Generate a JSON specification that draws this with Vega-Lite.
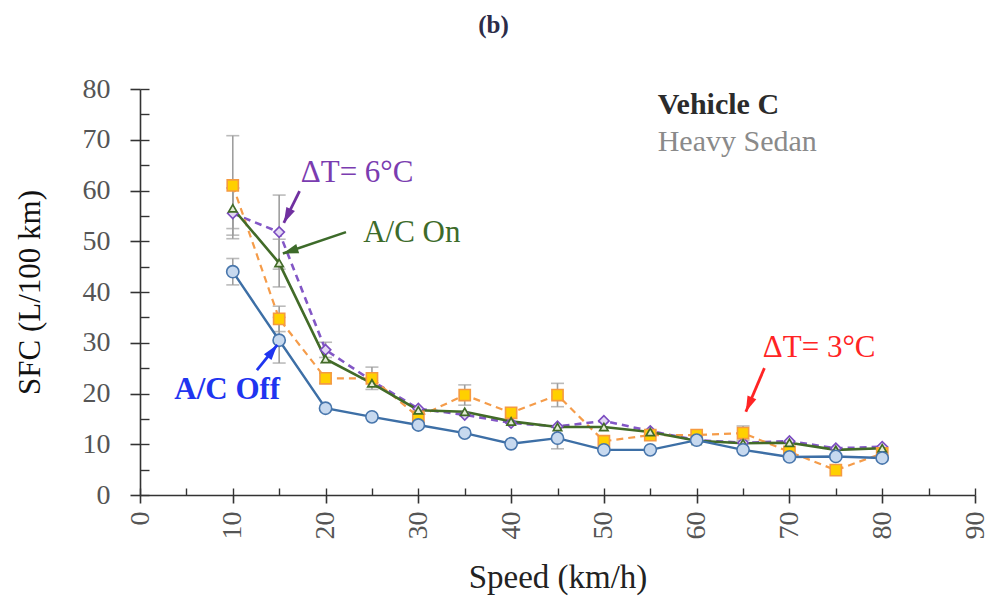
{
  "$schema": "https://vega.github.io/schema/vega-lite/v6.json",
  "width": 835,
  "height": 406,
  "autosize": {"type": "none"},
  "padding": {"left": 140, "top": 89, "right": 17, "bottom": 104},
  "background": "white",
  "config": {"view": {"stroke": null}, "font": "Liberation Serif"},
  "datasets": {
    "sfc": [
      {"speed": 10, "series": "A/C Off", "sfc": 44.0, "err": 2.6},
      {"speed": 15, "series": "A/C Off", "sfc": 30.5, "err": 4.5},
      {"speed": 20, "series": "A/C Off", "sfc": 17.1, "err": 0},
      {"speed": 25, "series": "A/C Off", "sfc": 15.4, "err": 0},
      {"speed": 30, "series": "A/C Off", "sfc": 13.8, "err": 0},
      {"speed": 35, "series": "A/C Off", "sfc": 12.2, "err": 0},
      {"speed": 40, "series": "A/C Off", "sfc": 10.1, "err": 0},
      {"speed": 45, "series": "A/C Off", "sfc": 11.2, "err": 2.1},
      {"speed": 50, "series": "A/C Off", "sfc": 8.9, "err": 0},
      {"speed": 55, "series": "A/C Off", "sfc": 8.9, "err": 0},
      {"speed": 60, "series": "A/C Off", "sfc": 10.8, "err": 0},
      {"speed": 65, "series": "A/C Off", "sfc": 8.9, "err": 0},
      {"speed": 70, "series": "A/C Off", "sfc": 7.5, "err": 0},
      {"speed": 75, "series": "A/C Off", "sfc": 7.6, "err": 0},
      {"speed": 80, "series": "A/C Off", "sfc": 7.3, "err": 0},

      {"speed": 10, "series": "A/C On", "sfc": 56.5, "err": 4.0},
      {"speed": 15, "series": "A/C On", "sfc": 45.7, "err": 4.7},
      {"speed": 20, "series": "A/C On", "sfc": 26.8, "err": 0},
      {"speed": 25, "series": "A/C On", "sfc": 22.0, "err": 0},
      {"speed": 30, "series": "A/C On", "sfc": 16.7, "err": 0},
      {"speed": 35, "series": "A/C On", "sfc": 16.4, "err": 0},
      {"speed": 40, "series": "A/C On", "sfc": 14.5, "err": 0},
      {"speed": 45, "series": "A/C On", "sfc": 13.4, "err": 0},
      {"speed": 50, "series": "A/C On", "sfc": 13.4, "err": 0},
      {"speed": 55, "series": "A/C On", "sfc": 12.4, "err": 0},
      {"speed": 60, "series": "A/C On", "sfc": 10.7, "err": 0},
      {"speed": 65, "series": "A/C On", "sfc": 10.2, "err": 0},
      {"speed": 70, "series": "A/C On", "sfc": 10.3, "err": 0},
      {"speed": 75, "series": "A/C On", "sfc": 8.9, "err": 0},
      {"speed": 80, "series": "A/C On", "sfc": 9.2, "err": 0},

      {"speed": 10, "series": "ΔT= 6°C", "sfc": 55.5, "err": 5.0},
      {"speed": 15, "series": "ΔT= 6°C", "sfc": 51.8, "err": 7.3},
      {"speed": 20, "series": "ΔT= 6°C", "sfc": 28.6, "err": 1.5},
      {"speed": 25, "series": "ΔT= 6°C", "sfc": 22.5, "err": 0},
      {"speed": 30, "series": "ΔT= 6°C", "sfc": 17.0, "err": 0},
      {"speed": 35, "series": "ΔT= 6°C", "sfc": 15.8, "err": 0},
      {"speed": 40, "series": "ΔT= 6°C", "sfc": 14.2, "err": 0},
      {"speed": 45, "series": "ΔT= 6°C", "sfc": 13.5, "err": 0},
      {"speed": 50, "series": "ΔT= 6°C", "sfc": 14.6, "err": 0},
      {"speed": 55, "series": "ΔT= 6°C", "sfc": 12.6, "err": 0},
      {"speed": 60, "series": "ΔT= 6°C", "sfc": 10.8, "err": 0},
      {"speed": 65, "series": "ΔT= 6°C", "sfc": 10.3, "err": 0},
      {"speed": 70, "series": "ΔT= 6°C", "sfc": 10.6, "err": 0},
      {"speed": 75, "series": "ΔT= 6°C", "sfc": 9.2, "err": 0},
      {"speed": 80, "series": "ΔT= 6°C", "sfc": 9.5, "err": 0},

      {"speed": 10, "series": "ΔT= 3°C", "sfc": 61.0, "err": 9.8},
      {"speed": 15, "series": "ΔT= 3°C", "sfc": 34.7, "err": 2.5},
      {"speed": 20, "series": "ΔT= 3°C", "sfc": 23.0, "err": 1.0},
      {"speed": 25, "series": "ΔT= 3°C", "sfc": 23.0, "err": 2.2},
      {"speed": 30, "series": "ΔT= 3°C", "sfc": 15.4, "err": 0},
      {"speed": 35, "series": "ΔT= 3°C", "sfc": 19.7, "err": 2.0},
      {"speed": 40, "series": "ΔT= 3°C", "sfc": 16.2, "err": 0},
      {"speed": 45, "series": "ΔT= 3°C", "sfc": 19.7, "err": 2.3},
      {"speed": 50, "series": "ΔT= 3°C", "sfc": 10.6, "err": 0},
      {"speed": 55, "series": "ΔT= 3°C", "sfc": 11.8, "err": 0},
      {"speed": 60, "series": "ΔT= 3°C", "sfc": 11.8, "err": 0},
      {"speed": 65, "series": "ΔT= 3°C", "sfc": 12.2, "err": 1.4},
      {"speed": 70, "series": "ΔT= 3°C", "sfc": 8.5, "err": 0},
      {"speed": 75, "series": "ΔT= 3°C", "sfc": 4.9, "err": 0},
      {"speed": 80, "series": "ΔT= 3°C", "sfc": 8.2, "err": 0}
    ]
  },
  "resolve": {"axis": {"x": "independent", "y": "independent"}},
  "encoding": {
    "x": {"field": "speed", "type": "quantitative", "scale": {"domain": [0, 90], "nice": false}, "axis": null},
    "y": {"field": "sfc", "type": "quantitative", "scale": {"domain": [0, 80], "nice": false}, "axis": null}
  },
  "layer": [
    {
      "data": {"name": "sfc"},
      "transform": [{"filter": "datum.err > 0"}],
      "mark": {"type": "errorbar", "ticks": {"size": 13}, "color": "#9e9e9e", "thickness": 1.6},
      "encoding": {"yError": {"field": "err"}}
    },
    {
      "data": {"name": "sfc"},
      "transform": [{"filter": "datum.series === 'ΔT= 6°C'"}],
      "mark": {"type": "line", "color": "#8357c6", "strokeWidth": 2.6, "strokeDash": [7, 5]},
      "encoding": {
        "x": {
          "field": "speed", "type": "quantitative", "scale": {"domain": [0, 90], "nice": false},
          "axis": {
            "orient": "bottom", "values": [0, 10, 20, 30, 40, 50, 60, 70, 80, 90],
            "title": "Speed (km/h)", "grid": false,
            "domainColor": "#333333", "domainWidth": 1.6,
            "tickColor": "#333333", "tickWidth": 1.6, "tickSize": 8,
            "labelAngle": 270, "labelFont": "Liberation Serif", "labelFontSize": 28,
            "labelColor": "#555555", "labelPadding": 8, "labelFlush": false, "labelOverlap": false,
            "titleFont": "Liberation Serif", "titleFontSize": 33, "titleFontWeight": "normal",
            "titleColor": "#222222", "titlePadding": 22
          }
        },
        "y": {
          "field": "sfc", "type": "quantitative", "scale": {"domain": [0, 80], "nice": false},
          "axis": {
            "orient": "left", "values": [0, 10, 20, 30, 40, 50, 60, 70, 80],
            "title": "SFC (L/100 km)", "grid": false,
            "domainColor": "#333333", "domainWidth": 1.6,
            "tickColor": "#333333", "tickWidth": 1.6, "tickSize": 10,
            "labelFont": "Liberation Serif", "labelFontSize": 28,
            "labelColor": "#555555", "labelPadding": 20, "labelFlush": false, "labelOverlap": false,
            "titleFont": "Liberation Serif", "titleFontSize": 31, "titleFontWeight": "normal",
            "titleColor": "#111111", "titlePadding": 36
          }
        }
      }
    },
    {
      "data": {"name": "sfc"},
      "transform": [{"filter": "datum.series === 'ΔT= 3°C'"}],
      "mark": {"type": "line", "color": "#f59c4a", "strokeWidth": 2.2, "strokeDash": [7, 5]},
      "encoding": {
        "x": {
          "field": "speed", "type": "quantitative", "scale": {"domain": [0, 90], "nice": false},
          "axis": {
            "orient": "bottom", "values": [0, 5, 10, 15, 20, 25, 30, 35, 40, 45, 50, 55, 60, 65, 70, 75, 80, 85, 90],
            "title": null, "labels": false, "domain": false, "grid": false,
            "tickColor": "#333333", "tickWidth": 1.4, "tickSize": -7
          }
        },
        "y": {
          "field": "sfc", "type": "quantitative", "scale": {"domain": [0, 80], "nice": false},
          "axis": {
            "orient": "left", "values": [0, 5, 10, 15, 20, 25, 30, 35, 40, 45, 50, 55, 60, 65, 70, 75, 80],
            "title": null, "labels": false, "domain": false, "grid": false,
            "tickColor": "#333333", "tickWidth": 1.4, "tickSize": -9
          }
        }
      }
    },
    {
      "data": {"name": "sfc"},
      "transform": [{"filter": "datum.series === 'A/C On'"}],
      "mark": {"type": "line", "color": "#426b28", "strokeWidth": 2.6}
    },
    {
      "data": {"name": "sfc"},
      "transform": [{"filter": "datum.series === 'A/C Off'"}],
      "mark": {"type": "line", "color": "#3d6fa6", "strokeWidth": 2.4}
    },
    {
      "data": {"name": "sfc"},
      "transform": [{"filter": "datum.series === 'ΔT= 6°C'"}],
      "mark": {"type": "point", "shape": "diamond", "size": 110, "filled": true, "fill": "#e3d9f3", "stroke": "#7b4cc0", "strokeWidth": 1.6, "opacity": 1}
    },
    {
      "data": {"name": "sfc"},
      "transform": [{"filter": "datum.series === 'ΔT= 3°C'"}],
      "mark": {"type": "point", "shape": "square", "size": 125, "filled": true, "fill": "#ffd000", "stroke": "#f59a40", "strokeWidth": 1.6, "opacity": 1}
    },
    {
      "data": {"name": "sfc"},
      "transform": [{"filter": "datum.series === 'A/C On'"}],
      "mark": {"type": "point", "shape": "triangle-up", "size": 70, "filled": true, "fill": "#e4ecd6", "stroke": "#426b28", "strokeWidth": 1.7, "opacity": 1}
    },
    {
      "data": {"name": "sfc"},
      "transform": [{"filter": "datum.series === 'A/C Off'"}],
      "mark": {"type": "point", "shape": "circle", "size": 150, "filled": true, "fill": "#c7d9ef", "stroke": "#4876ac", "strokeWidth": 1.6, "opacity": 1}
    },

    {
      "data": {"values": [{"speed": 15.5, "sfc": 53.6, "speed2": 17.2, "sfc2": 59.9}]},
      "layer": [
        {"mark": {"type": "rule", "color": "#7030a0", "strokeWidth": 2.8},
         "encoding": {"x2": {"field": "speed2"}, "y2": {"field": "sfc2"}}},
        {"mark": {"type": "point", "shape": "M0,0L0.55,1.8L-0.55,1.8Z", "size": 300, "filled": true, "color": "#7030a0", "opacity": 1, "angle": 206}}
      ]
    },
    {
      "data": {"values": [{"speed": 15.4, "sfc": 47.6, "speed2": 22.2, "sfc2": 51.8}]},
      "layer": [
        {"mark": {"type": "rule", "color": "#3d6b2a", "strokeWidth": 2.6},
         "encoding": {"x2": {"field": "speed2"}, "y2": {"field": "sfc2"}}},
        {"mark": {"type": "point", "shape": "M0,0L0.55,1.8L-0.55,1.8Z", "size": 300, "filled": true, "color": "#3d6b2a", "opacity": 1, "angle": 252}}
      ]
    },
    {
      "data": {"values": [{"speed": 14.8, "sfc": 29.6, "speed2": 12.6, "sfc2": 24.6}]},
      "layer": [
        {"mark": {"type": "rule", "color": "#1f35f0", "strokeWidth": 2.8},
         "encoding": {"x2": {"field": "speed2"}, "y2": {"field": "sfc2"}}},
        {"mark": {"type": "point", "shape": "M0,0L0.55,1.8L-0.55,1.8Z", "size": 300, "filled": true, "color": "#1f35f0", "opacity": 1, "angle": 38}}
      ]
    },
    {
      "data": {"values": [{"speed": 65.3, "sfc": 16.4, "speed2": 67.3, "sfc2": 25.0}]},
      "layer": [
        {"mark": {"type": "rule", "color": "#ff2424", "strokeWidth": 2.8},
         "encoding": {"x2": {"field": "speed2"}, "y2": {"field": "sfc2"}}},
        {"mark": {"type": "point", "shape": "M0,0L0.55,1.8L-0.55,1.8Z", "size": 300, "filled": true, "color": "#ff2424", "opacity": 1, "angle": 203}}
      ]
    },

    {
      "data": {"values": [{"note": "ΔT= 6°C", "speed": 23.4, "sfc": 63.4}]},
      "mark": {"type": "text", "font": "Liberation Serif", "fontSize": 31, "color": "#7a3cb0", "align": "center", "baseline": "middle"},
      "encoding": {"text": {"field": "note"}}
    },
    {
      "data": {"values": [{"note": "A/C On", "speed": 29.3, "sfc": 51.6}]},
      "mark": {"type": "text", "font": "Liberation Serif", "fontSize": 31, "color": "#3d6b2a", "align": "center", "baseline": "middle"},
      "encoding": {"text": {"field": "note"}}
    },
    {
      "data": {"values": [{"note": "A/C Off", "speed": 9.4, "sfc": 20.7}]},
      "mark": {"type": "text", "font": "Liberation Serif", "fontSize": 31, "fontWeight": "bold", "color": "#1f35f0", "align": "center", "baseline": "middle"},
      "encoding": {"text": {"field": "note"}}
    },
    {
      "data": {"values": [{"note": "ΔT= 3°C", "speed": 73.2, "sfc": 29.0}]},
      "mark": {"type": "text", "font": "Liberation Serif", "fontSize": 31, "color": "#ff2424", "align": "center", "baseline": "middle"},
      "encoding": {"text": {"field": "note"}}
    },
    {
      "data": {"values": [{"note": "Vehicle C", "speed": 55.8, "sfc": 76.8}]},
      "mark": {"type": "text", "font": "Liberation Serif", "fontSize": 30, "fontWeight": "bold", "color": "#2b2b2b", "align": "left", "baseline": "middle"},
      "encoding": {"text": {"field": "note"}}
    },
    {
      "data": {"values": [{"note": "Heavy Sedan", "speed": 55.8, "sfc": 69.6}]},
      "mark": {"type": "text", "font": "Liberation Serif", "fontSize": 30, "color": "#8a8a8a", "align": "left", "baseline": "middle"},
      "encoding": {"text": {"field": "note"}}
    },
    {
      "data": {"values": [{"note": "(b)", "speed": 38.1, "sfc": 92.6}]},
      "mark": {"type": "text", "font": "Liberation Serif", "fontSize": 25, "fontWeight": "bold", "color": "#2c2c48", "align": "center", "baseline": "middle"},
      "encoding": {"text": {"field": "note"}}
    }
  ]
}
